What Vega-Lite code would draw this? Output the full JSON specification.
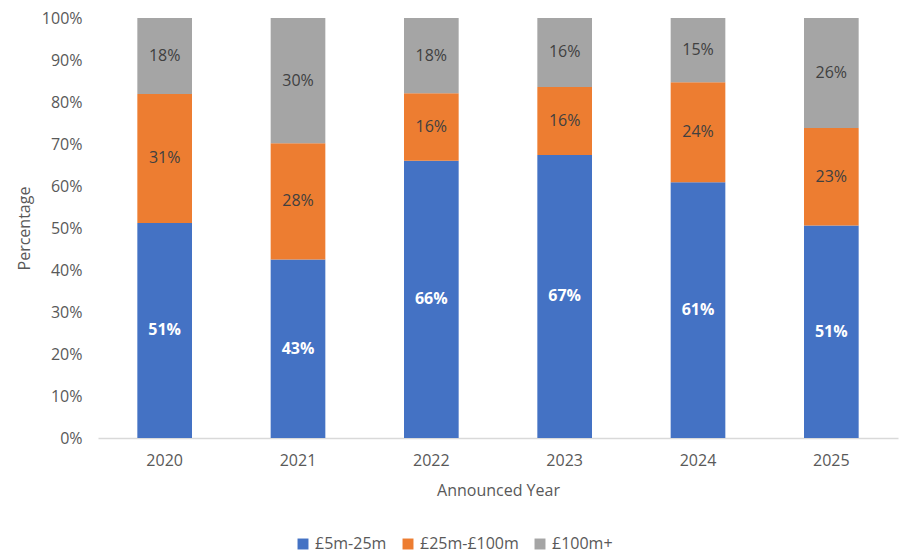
{
  "$schema": "https://vega.github.io/schema/vega-lite/v6.json",
  "width": 800,
  "height": 420,
  "autosize": {"type": "none"},
  "padding": {"left": 98, "top": 18, "right": 12, "bottom": 121},
  "background": "white",
  "config": {
    "font": "Open Sans",
    "view": {"stroke": null},
    "axis": {"labelFont": "Open Sans", "titleFont": "Open Sans", "labelColor": "#595959", "titleColor": "#595959", "labelFontSize": 16, "titleFontSize": 16, "titleFontWeight": "normal", "grid": false, "ticks": false, "labelOverlap": false}
  },
  "data": {
    "values": [
      {"year": "2020", "cat": "£5m-25m", "ord": 1, "value": 0.512},
      {"year": "2020", "cat": "£25m-£100m", "ord": 2, "value": 0.307},
      {"year": "2020", "cat": "£100m+", "ord": 3, "value": 0.181},
      {"year": "2021", "cat": "£5m-25m", "ord": 1, "value": 0.425},
      {"year": "2021", "cat": "£25m-£100m", "ord": 2, "value": 0.277},
      {"year": "2021", "cat": "£100m+", "ord": 3, "value": 0.298},
      {"year": "2022", "cat": "£5m-25m", "ord": 1, "value": 0.660},
      {"year": "2022", "cat": "£25m-£100m", "ord": 2, "value": 0.161},
      {"year": "2022", "cat": "£100m+", "ord": 3, "value": 0.179},
      {"year": "2023", "cat": "£5m-25m", "ord": 1, "value": 0.674},
      {"year": "2023", "cat": "£25m-£100m", "ord": 2, "value": 0.162},
      {"year": "2023", "cat": "£100m+", "ord": 3, "value": 0.164},
      {"year": "2024", "cat": "£5m-25m", "ord": 1, "value": 0.609},
      {"year": "2024", "cat": "£25m-£100m", "ord": 2, "value": 0.238},
      {"year": "2024", "cat": "£100m+", "ord": 3, "value": 0.153},
      {"year": "2025", "cat": "£5m-25m", "ord": 1, "value": 0.506},
      {"year": "2025", "cat": "£25m-£100m", "ord": 2, "value": 0.232},
      {"year": "2025", "cat": "£100m+", "ord": 3, "value": 0.262}
    ]
  },
  "transform": [
    {"stack": "value", "groupby": ["year"], "sort": [{"field": "ord", "order": "ascending"}], "as": ["v0", "v1"]}
  ],
  "encoding": {
    "x": {
      "field": "year", "type": "nominal", "title": "Announced Year",
      "scale": {"paddingInner": 0.59, "paddingOuter": 0.295},
      "axis": {"labelAngle": 0, "labelPadding": 14, "titlePadding": 14, "domainColor": "#d9d9d9", "domainWidth": 1.5}
    }
  },
  "layer": [
    {
      "mark": {"type": "bar"},
      "encoding": {
        "y": {"field": "v0", "type": "quantitative", "title": "Percentage",
          "scale": {"domain": [0, 1]},
          "axis": {"format": ".0%", "values": [0,0.1,0.2,0.3,0.4,0.5,0.6,0.7,0.8,0.9,1], "domain": false, "labelPadding": 16, "titlePadding": 9}},
        "y2": {"field": "v1"},
        "color": {
          "field": "cat", "type": "nominal",
          "scale": {"domain": ["£5m-25m", "£25m-£100m", "£100m+"], "range": ["#4472C4", "#ED7D31", "#A5A5A5"]},
          "legend": {"title": null, "orient": "none", "direction": "horizontal", "legendX": 197, "legendY": 518, "symbolType": "square", "symbolSize": 120, "symbolStrokeWidth": 0, "labelFontSize": 16, "labelColor": "#595959", "labelFont": "Open Sans", "columnPadding": 13, "labelOffset": 4}
        }
      }
    },
    {
      "transform": [
        {"fold": ["v0", "v1"], "as": ["k", "pos"]},
        {"aggregate": [{"op": "mean", "field": "pos", "as": "mid"}], "groupby": ["year", "cat", "value"]},
        {"filter": "datum.cat === '£5m-25m'"}
      ],
      "mark": {"type": "text", "fontSize": 16, "fontWeight": "bold", "color": "white", "baseline": "middle", "font": "Open Sans"},
      "encoding": {
        "y": {"field": "mid", "type": "quantitative"},
        "text": {"field": "value", "type": "quantitative", "format": ".0%"}
      }
    },
    {
      "transform": [
        {"fold": ["v0", "v1"], "as": ["k", "pos"]},
        {"aggregate": [{"op": "mean", "field": "pos", "as": "mid"}], "groupby": ["year", "cat", "value"]},
        {"filter": "datum.cat !== '£5m-25m'"}
      ],
      "mark": {"type": "text", "fontSize": 16, "color": "#404040", "baseline": "middle", "font": "Open Sans"},
      "encoding": {
        "y": {"field": "mid", "type": "quantitative"},
        "text": {"field": "value", "type": "quantitative", "format": ".0%"}
      }
    }
  ]
}
